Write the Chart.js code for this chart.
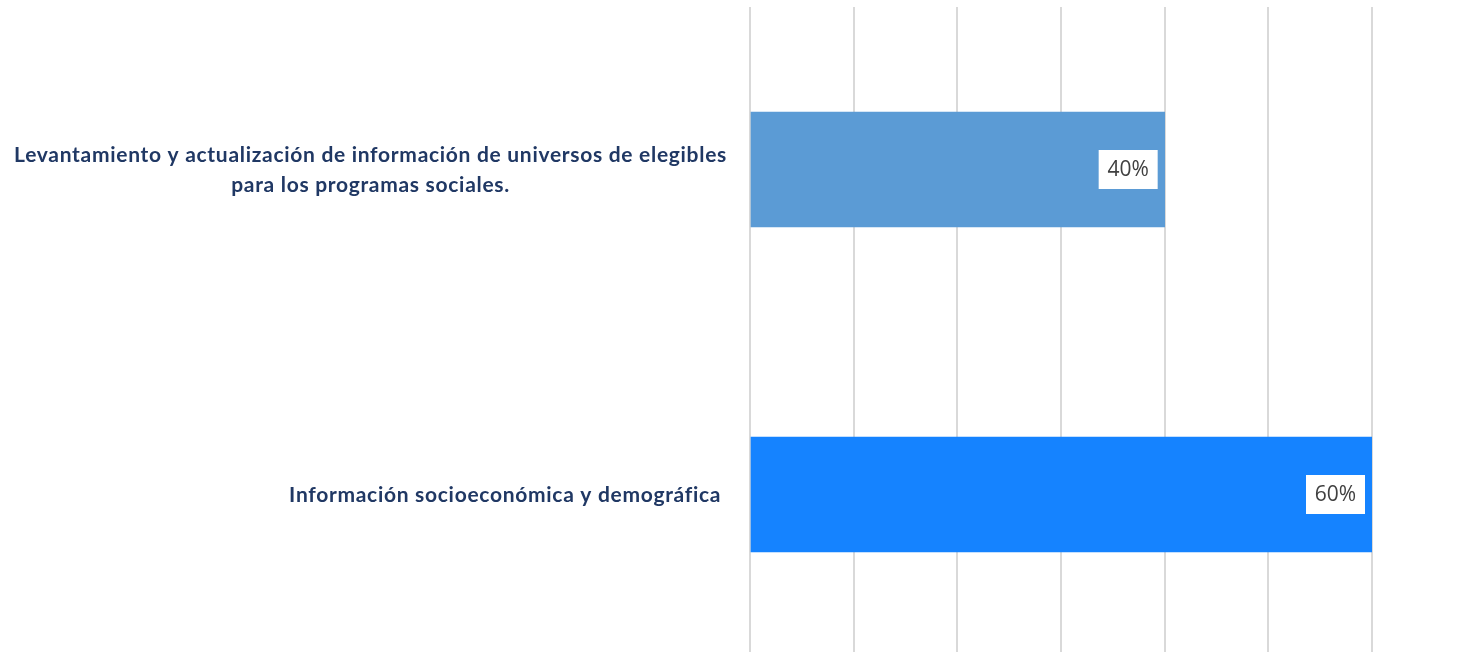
<!DOCTYPE html>
<html>
<head>
<meta charset="utf-8">
<script src="https://cdn.jsdelivr.net/npm/chart.js@4.4.0/dist/chart.umd.min.js"></script>
<style>
  html, body { margin: 0; padding: 0; background: #fff; overflow: hidden; }
  #wrap { width: 1460px; height: 657px; }
</style>
</head>
<body>
<div id="wrap"><canvas id="grafica"></canvas></div>
<script>
// datos
var categorias = [
    ['Levantamiento y actualización de información de universos de elegibles', 'para los programas sociales.'],
    ['Información socioeconómica y demográfica ']
];
var valores = [0.40, 0.60];
var colores = ['#5B9BD5', '#1583FF'];
var ticksX = [0, 0.1, 0.2, 0.3, 0.4, 0.5, 0.6];

// etiquetas de categoria: bloque alineado a la derecha, lineas centradas entre si
var categoriasPlugin = {
    id: 'categorias',
    afterDraw: function (chart) {
        var ctx = chart.ctx;
        var escala = chart.scales.y;
        var derecha = chart.chartArea.left - 23;
        var alto = 30;
        ctx.save();
        ctx.font = 'bold 21px Lato, sans-serif';
        if ('letterSpacing' in ctx) ctx.letterSpacing = '0.7px';
        ctx.fillStyle = '#203864';
        ctx.textAlign = 'center';
        ctx.textBaseline = 'alphabetic';
        categorias.forEach(function (lineas, i) {
            var yc = escala.getPixelForTick(i);
            var ancho = 0;
            lineas.forEach(function (l) { ancho = Math.max(ancho, ctx.measureText(l).width); });
            var xc = derecha - ancho / 2;
            lineas.forEach(function (l, j) {
                var y = yc + (j - (lineas.length - 1) / 2) * alto + 7.5;
                ctx.fillText(l, xc, y);
            });
        });
        ctx.restore();
    }
};

// etiquetas de datos en caja blanca al final de cada barra
var etiquetasPlugin = {
    id: 'etiquetas',
    afterDatasetsDraw: function (chart) {
        var ctx = chart.ctx;
        var meta = chart.getDatasetMeta(0);
        ctx.save();
        ctx.font = '21px "Open Sans", sans-serif';
        ctx.textAlign = 'center';
        ctx.textBaseline = 'middle';
        meta.data.forEach(function (bar, i) {
            var txt = Math.round(valores[i] * 100) + '%';
            var w = 59, h = 39;
            var x = bar.x - 7 - w;
            var y = bar.y - h / 2;
            ctx.fillStyle = '#ffffff';
            ctx.fillRect(x, y, w, h);
            ctx.fillStyle = '#404040';
            ctx.fillText(txt, x + w / 2, bar.y + 1);
        });
        ctx.restore();
    }
};

var ctx = document.getElementById('grafica').getContext('2d');
var myChart = new Chart(ctx, {
    type: 'bar',
    data: {
        labels: categorias.map(function (c) { return c.join(' '); }),
        datasets: [{
            data: valores,
            backgroundColor: colores,
            borderWidth: 0,
            barThickness: 115
        }]
    },
    options: {
        indexAxis: 'y',
        responsive: true,
        maintainAspectRatio: false,
        animation: false,
        layout: { padding: { top: 7, right: 88, bottom: 0, left: 0 } },
        plugins: {
            legend: { display: false },
            tooltip: { enabled: false }
        },
        scales: {
            x: {
                min: 0,
                max: 0.6,
                afterBuildTicks: function (axis) {
                    axis.ticks = ticksX.map(function (v) { return { value: v }; });
                },
                afterFit: function (axis) {
                    axis.height = 0;
                    axis.paddingLeft = 0;
                    axis.paddingRight = 0;
                },
                ticks: { display: false },
                grid: { color: '#d9d9d9', lineWidth: 2, drawTicks: false },
                border: { display: false }
            },
            y: {
                afterFit: function (axis) {
                    axis.width = 750;
                    axis.paddingTop = 0;
                    axis.paddingBottom = 0;
                },
                grid: { display: false, drawTicks: false },
                border: { display: false },
                ticks: { display: false }
            }
        }
    },
    plugins: [etiquetasPlugin, categoriasPlugin]
});
</script>
</body>
</html>
